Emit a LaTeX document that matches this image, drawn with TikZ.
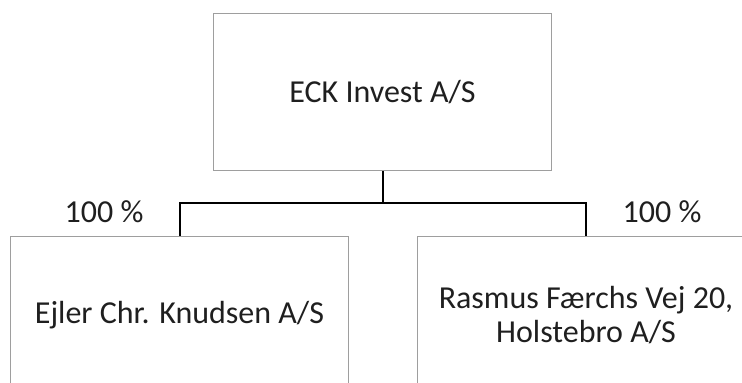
\documentclass[tikz,border=0pt]{standalone}
\usepackage{fontspec}
\setmainfont{Carlito}
\usepackage{tikz}
\usetikzlibrary{positioning}

\begin{document}
\begin{tikzpicture}[node distance = 32.5pt, auto,
			block/.style={
					rectangle,
					draw=black!38,
					line width=0.5pt,
					minimum width=169pt,
					minimum height=78.5pt,
					align=center,
					inner sep=0pt,
					text=black!88,
					font=\fontsize{16}{17}\selectfont
				},
			pct/.style={font=\fontsize{16}{17}\selectfont, text=black!88, inner sep=0pt},
			line/.style={draw, line width=1pt}
		]
		\useasboundingbox (0,0) rectangle (371pt,-191.5pt);
		% Place nodes
		\node [block] (eck) at (191.25pt,-46.25pt) {ECK Invest A/S};
		\node [block, below=of eck, xshift=-101.5pt] (knudsen) {Ejler Chr. Knudsen A/S};
		\node [block, below=of eck, xshift=101.75pt] (rasmus) {Rasmus Færchs Vej 20,\\Holstebro A/S};
		\node [pct] (pctknudsen) at ([xshift=-37.75pt, yshift=12.5pt]knudsen.north) {100 \%};
		\node [pct] (pctrasmus) at ([xshift=38pt, yshift=12.5pt]rasmus.north) {100 \%};
		% Draw edges
		\path [line] (eck.south) -- ++(0,-16pt) coordinate (bus);
		\path [line] (bus) -| (knudsen.north);
		\path [line] (bus) -| (rasmus.north);
	\end{tikzpicture}
\end{document}
